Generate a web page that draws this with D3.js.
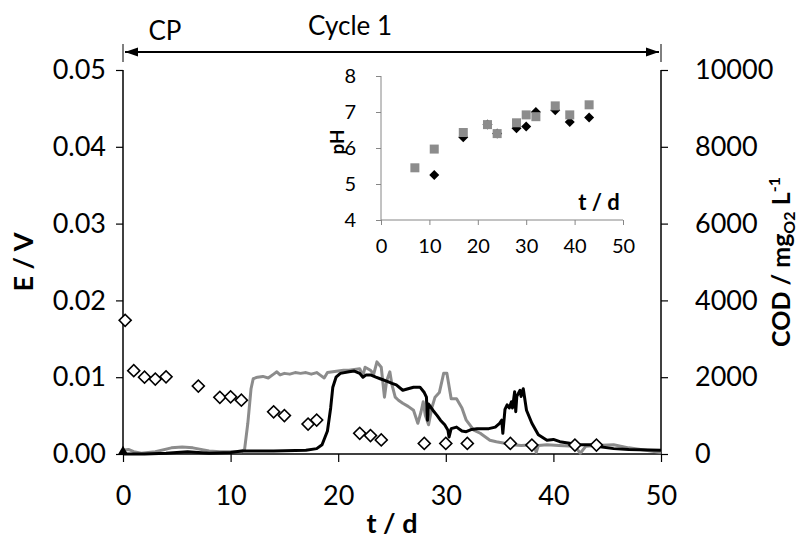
<!DOCTYPE html>
<html lang="en">
<head>
    <meta charset="UTF-8">
    <title>E and COD vs time</title>
    <script src="https://d3js.org/d3.v7.min.js"></script>
    <style>
        body { margin: 0; background: #fff; }
        text { font-family: Lato, "Open Sans", sans-serif; fill: #000; }
        .title { font-weight: bold; }
    </style>
</head>
<body>
    <svg width="804" height="542"></svg>

    <script>
        // black trace: time (d) and E (V)
        const blackT = [0, 2, 4, 6, 8, 10, 11, 14, 17, 18, 18.5, 19, 19.3, 19.5, 19.8, 20.2, 21, 21.5, 22, 22.3, 22.6, 23, 23.5, 23.9, 24.5, 25, 25.4, 26, 26.5, 27, 27.6, 28, 28.2, 28.3, 28.4, 28.8, 29.2, 29.5, 29.9, 30.2, 30.3, 30.5, 31, 31.5, 31.9, 32.4, 32.9, 33.5, 34, 34.6, 35, 35.2, 35.3, 35.5, 35.7, 35.9, 36.1, 36.2, 36.4, 36.5, 36.6, 36.9, 37, 37.2, 37.5, 38, 38.6, 39.4, 40, 40.6, 41.5, 42.2, 43.5, 44, 45.6, 47, 50];
        const blackE = [0, 0, 0.0001, 0.0003, 0.0001, 0.0002, 0.0004, 0.0004, 0.0005, 0.0007, 0.0012, 0.003, 0.006, 0.0087, 0.01, 0.0105, 0.0107, 0.0108, 0.0105, 0.01, 0.0103, 0.0103, 0.01, 0.0098, 0.0095, 0.0092, 0.009, 0.0083, 0.0085, 0.0087, 0.0087, 0.008, 0.0074, 0.0044, 0.0065, 0.0057, 0.005, 0.0044, 0.0038, 0.0031, 0.0022, 0.0033, 0.0035, 0.003, 0.0029, 0.0032, 0.0033, 0.0033, 0.0033, 0.0035, 0.004, 0.0044, 0.0027, 0.0058, 0.0064, 0.006, 0.0068, 0.006, 0.0081, 0.0055, 0.0075, 0.0083, 0.0075, 0.0085, 0.0057, 0.004, 0.0025, 0.0018, 0.0019, 0.0016, 0.0014, 0.0012, 0.0012, 0.001, 0.0007, 0.0006, 0.0005];

        // grey trace: time (d) and E (V)
        const greyT = [0, 0.5, 1, 1.7, 3, 4.5, 5.5, 6.5, 8, 9, 10.4, 11, 11.3, 11.6, 11.9, 12.1, 12.5, 13, 13.5, 14, 14.3, 14.6, 15, 15.5, 16, 16.5, 17, 17.5, 18, 18.3, 18.7, 19, 19.5, 20, 20.5, 21, 21.5, 22, 22.3, 22.5, 23, 23.3, 23.6, 24, 24.3, 24.5, 24.8, 25, 25.3, 25.6, 26, 26.5, 27, 27.4, 27.7, 27.9, 28.1, 28.4, 28.7, 29, 29.4, 29.8, 30.1, 30.5, 31, 31.5, 31.9, 32.6, 33.2, 34.1, 34.7, 36.2, 37, 38.2, 38.4, 38.6, 39.4, 40.5, 42, 42.5, 43, 44, 45.6, 47, 50];
        const greyE = [0.0005, 0.0006, 0.0003, 0.0001, 0.0003, 0.0008, 0.0009, 0.0008, 0.0004, 0.0003, 0.0003, 0.0003, 0.0006, 0.004, 0.0085, 0.0098, 0.01, 0.0101, 0.0099, 0.0104, 0.0107, 0.0103, 0.0105, 0.0104, 0.0106, 0.0105, 0.0106, 0.0104, 0.0106, 0.0103, 0.0099, 0.0106, 0.0107, 0.0108, 0.0109, 0.0109, 0.011, 0.0111, 0.0102, 0.0113, 0.0109, 0.0104, 0.012, 0.0113, 0.0074, 0.0095, 0.0107, 0.009, 0.0074, 0.007, 0.0066, 0.0062, 0.0057, 0.004, 0.0055, 0.0068, 0.005, 0.0038, 0.006, 0.0074, 0.008, 0.0105, 0.0105, 0.0072, 0.0072, 0.006, 0.0044, 0.0031, 0.0027, 0.0018, 0.0016, 0.0012, 0.0011, 0.0012, 0.0002, 0.0011, 0.0012, 0.0011, 0.001, 0.0001, 0.001, 0.0011, 0.0012, 0.0008, 0.0002];

        // COD samples (open diamonds, right axis)
        const codT = [0.2, 1, 2, 3, 4, 7, 9, 10, 11, 14, 15, 17.2, 18, 22, 23, 24, 28, 30, 32, 36, 38, 42, 44];
        const codV = [3480, 2170, 2000, 1950, 2010, 1770, 1475, 1490, 1400, 1100, 1000, 780, 885, 540, 480, 365, 276, 276, 276, 276, 234, 234, 234];

        // inset pH values
        const phBlackT = [11, 17, 22, 24, 28, 30, 32, 36, 39, 43];
        const phBlack = [5.25, 6.3, 6.65, 6.4, 6.55, 6.6, 7.0, 7.05, 6.72, 6.85];
        const phGreyT = [7, 11, 17, 22, 24, 28, 30, 32, 36, 39, 43];
        const phGrey = [5.45, 5.97, 6.43, 6.65, 6.4, 6.7, 6.92, 6.87, 7.17, 6.92, 7.2];

        const xTicks = [0, 10, 20, 30, 40, 50];
        const eTicks = [0, 0.01, 0.02, 0.03, 0.04, 0.05];
        const codTicks = [0, 2000, 4000, 6000, 8000, 10000];
        const phTicks = [4, 5, 6, 7, 8];

        const svg = d3.select("svg");
        const grey = "#8c8c8c";

        const x = d3.scaleLinear().domain([0, 50]).range([123, 661]);
        const yE = d3.scaleLinear().domain([0, 0.05]).range([454, 70]);
        const yC = d3.scaleLinear().domain([0, 10000]).range([454, 70]);

        // axes
        const xAxis = svg.append("g").attr("transform", "translate(0,454)")
            .call(d3.axisBottom(x).tickValues(xTicks).tickSize(8).tickPadding(24).tickFormat(d3.format("d")));
        const lAxis = svg.append("g").attr("transform", "translate(123,0)")
            .call(d3.axisLeft(yE).tickValues(eTicks).tickSize(7).tickPadding(10).tickFormat(d3.format(".2f")));
        const rAxis = svg.append("g").attr("transform", "translate(661,0)")
            .call(d3.axisRight(yC).tickValues(codTicks).tickSize(7).tickPadding(27).tickFormat(d3.format("d")));
        [xAxis, lAxis, rAxis].forEach(a => {
            a.select(".domain").attr("stroke", "#000").attr("stroke-width", 1.5);
            a.selectAll(".tick line").attr("stroke", "#000").attr("stroke-width", 1.2);
            a.selectAll("text").attr("font-size", 27).attr("font-family", "Lato, sans-serif").attr("fill", "#000");
        });
        xAxis.selectAll(".domain").attr("d", "M123,0H661");
        lAxis.selectAll(".domain").attr("d", "M0,454V70");
        rAxis.selectAll(".domain").attr("d", "M0,454V70");

        // titles
        svg.append("text").attr("class", "title").attr("x", x(25)).attr("y", 533)
            .attr("text-anchor", "middle").attr("font-size", 27).text("t / d");
        svg.append("text").attr("class", "title").attr("transform", "translate(33,262) rotate(-90)")
            .attr("text-anchor", "middle").attr("font-size", 27).text("E / V");
        const cod = svg.append("text").attr("class", "title").attr("transform", "translate(790,262) rotate(-90)")
            .attr("text-anchor", "middle").attr("font-size", 25);
        cod.append("tspan").text("COD / mg");
        cod.append("tspan").attr("font-size", 16).attr("dy", 5).text("O2");
        cod.append("tspan").attr("dy", -5).text(" L");
        cod.append("tspan").attr("font-size", 16).attr("dy", -10).text("-1");

        // cycle annotation
        svg.append("defs").append("marker").attr("id", "ah").attr("viewBox", "0 0 10 10")
            .attr("refX", 10).attr("refY", 5).attr("markerWidth", 6).attr("markerHeight", 6)
            .attr("orient", "auto-start-reverse")
            .append("path").attr("d", "M0,1.5L10,5L0,8.5z").attr("fill", "#000");
        svg.append("line").attr("x1", x(0) + 2).attr("x2", x(50) - 2).attr("y1", 52).attr("y2", 52)
            .attr("stroke", "#000").attr("stroke-width", 2.2)
            .attr("marker-start", "url(#ah)").attr("marker-end", "url(#ah)");
        [0, 50].forEach(t => svg.append("line").attr("x1", x(t)).attr("x2", x(t)).attr("y1", 44).attr("y2", 62)
            .attr("stroke", "#000").attr("stroke-width", 1));
        svg.append("text").attr("x", 165).attr("y", 40).attr("text-anchor", "middle").attr("font-size", 26).text("CP");
        svg.append("text").attr("x", 350).attr("y", 35).attr("text-anchor", "middle").attr("font-size", 26).text("Cycle 1");

        // lines
        const line = d3.line().x(d => x(d[0])).y(d => yE(d[1]));
        svg.append("path").datum(d3.zip(greyT, greyE)).attr("d", line)
            .attr("fill", "none").attr("stroke", grey).attr("stroke-width", 3).attr("stroke-linejoin", "round");
        svg.append("path").datum(d3.zip(blackT, blackE)).attr("d", line)
            .attr("fill", "none").attr("stroke", "#000").attr("stroke-width", 3).attr("stroke-linejoin", "round");

        // COD diamonds
        const diamond = d3.symbol().type(d3.symbolSquare).size(72);
        svg.append("g").selectAll("path").data(d3.zip(codT, codV)).join("path")
            .attr("d", diamond)
            .attr("transform", d => `translate(${x(d[0])},${yC(d[1])}) rotate(45)`)
            .attr("fill", "#fff").attr("stroke", "#000").attr("stroke-width", 1.6);

        // marker at origin
        svg.append("path").attr("d", d3.symbol().type(d3.symbolTriangle).size(50))
            .attr("transform", `translate(${x(0)},${yE(0) - 2})`).attr("fill", "#000");

        // inset
        const ix = d3.scaleLinear().domain([0, 50]).range([381, 623]);
        const iy = d3.scaleLinear().domain([4, 8]).range([220, 76]);
        const ixAxis = svg.append("g").attr("transform", "translate(0,220)")
            .call(d3.axisBottom(ix).tickValues(xTicks).tickSize(5).tickPadding(14).tickFormat(d3.format("d")));
        const iyAxis = svg.append("g").attr("transform", "translate(381,0)")
            .call(d3.axisLeft(iy).tickValues(phTicks).tickSize(5).tickPadding(20).tickFormat(d3.format("d")));
        [ixAxis, iyAxis].forEach(a => {
            a.select(".domain").attr("stroke", "#868686").attr("stroke-width", 1);
            a.selectAll(".tick line").attr("stroke", "#868686");
            a.selectAll("text").attr("font-size", 20).attr("font-family", "Lato, sans-serif").attr("fill", "#000");
        });
        ixAxis.select(".domain").attr("d", "M381,0H623");
        iyAxis.select(".domain").attr("d", "M0,220V76");
        svg.append("text").attr("class", "title").attr("transform", "translate(344,142) rotate(-90)")
            .attr("text-anchor", "middle").attr("font-size", 19).text("pH");
        svg.append("text").attr("class", "title").attr("x", 599).attr("y", 210)
            .attr("text-anchor", "middle").attr("font-size", 22).text("t / d");

        svg.append("g").selectAll("path").data(d3.zip(phBlackT, phBlack)).join("path")
            .attr("d", d3.symbol().type(d3.symbolSquare).size(50))
            .attr("transform", d => `translate(${ix(d[0])},${iy(d[1])}) rotate(45)`)
            .attr("fill", "#000");
        svg.append("g").selectAll("rect").data(d3.zip(phGreyT, phGrey)).join("rect")
            .attr("x", d => ix(d[0]) - 4.5).attr("y", d => iy(d[1]) - 4.5)
            .attr("width", 9).attr("height", 9).attr("fill", grey);
    </script>
</body>
</html>
